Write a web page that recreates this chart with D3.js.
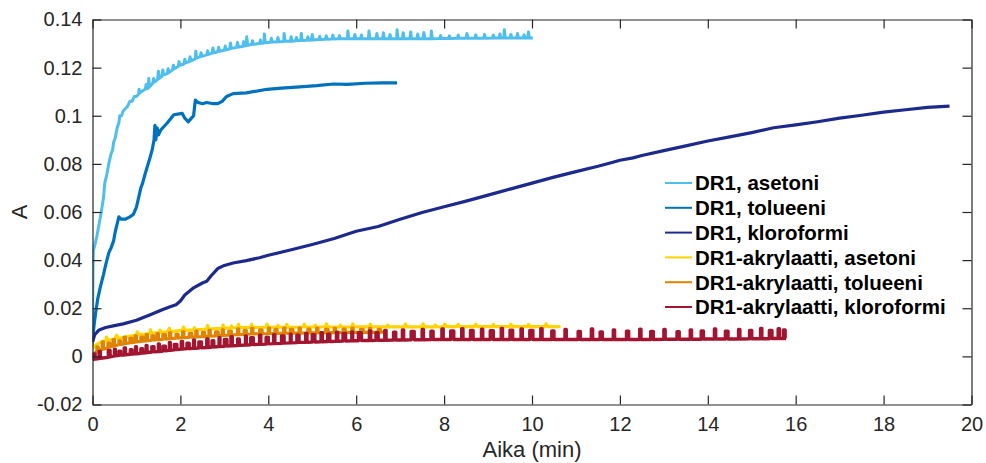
<!DOCTYPE html>
<html><head><meta charset="utf-8">
<script src="https://cdn.jsdelivr.net/npm/d3@7"></script>
<style>
html,body{margin:0;padding:0;background:#fff;}
svg{display:block;}
</style></head>
<body>
<div id="chart"></div>
<script>
// ---------- DATA ----------
const seriesNames = ["DR1, asetoni","DR1, tolueeni","DR1, kloroformi","DR1-akrylaatti, asetoni","DR1-akrylaatti, tolueeni","DR1-akrylaatti, kloroformi"];
const seriesColors = ["#4DBEEE","#0072BD","#1B2A8C","#FFD200","#E08300","#A2142F"];
const xTicks = [0,2,4,6,8,10,12,14,16,18,20];
const xTickLabels = ["0","2","4","6","8","10","12","14","16","18","20"];
const yTicks = [-0.02,0,0.02,0.04,0.06,0.08,0.1,0.12,0.14];
const yTickLabels = ["-0.02","0","0.02","0.04","0.06","0.08","0.1","0.12","0.14"];

const dr1Asetoni = [[0,0.004],[0.005,0.02],[0.01,0.035],[0.02,0.044],[0.05,0.046],[0.1,0.05],[0.15,0.055],[0.2,0.06],[0.25,0.066],[0.28,0.072],[0.33,0.076],[0.37,0.08],[0.42,0.084],[0.46,0.086],[0.48,0.089],[0.52,0.091],[0.56,0.095],[0.6,0.097],[0.62,0.1],[0.66,0.1],[0.7,0.102],[0.75,0.103],[0.8,0.104],[0.85,0.106],[0.9,0.106],[0.95,0.108],[1.0,0.108],[1.05,0.109],[1.06,0.111],[1.08,0.1095],[1.15,0.1105],[1.2,0.111],[1.22,0.113],[1.24,0.1112],[1.27,0.1115],[1.28,0.1155],[1.3,0.112],[1.37,0.1135],[1.39,0.1155],[1.41,0.114],[1.48,0.115],[1.5,0.1185],[1.52,0.1155],[1.58,0.1165],[1.6,0.119],[1.62,0.117],[1.7,0.1175],[1.72,0.1195],[1.74,0.118],[1.82,0.119],[1.84,0.121],[1.86,0.1195],[1.95,0.1205],[1.97,0.1225],[1.99,0.121],[2.08,0.1215],[2.1,0.1235],[2.12,0.122],[2.2,0.1225],[2.22,0.1245],[2.24,0.1228],[2.34,0.1237],[2.35,0.1268],[2.37,0.124],[2.45,0.1245],[2.47,0.1262],[2.49,0.1247],[2.6,0.1253],[2.62,0.127],[2.64,0.1255],[2.72,0.126],[2.74,0.1282],[2.76,0.1262],[2.85,0.1266],[2.87,0.1285],[2.89,0.1268],[3.0,0.1272],[3.02,0.129],[3.04,0.1274],[3.12,0.1278],[3.14,0.1302],[3.16,0.128],[3.28,0.1284],[3.3,0.1305],[3.32,0.1286],[3.42,0.1288],[3.44,0.1308],[3.46,0.129],[3.5,0.1292],[3.51,0.1328],[3.53,0.1293],[3.62,0.1296],[3.64,0.1312],[3.66,0.1297],[3.8,0.13],[3.82,0.1315],[3.84,0.1301],[3.9,0.1302],[3.91,0.134],[3.93,0.1303],[4.05,0.1305],[4.07,0.1322],[4.09,0.1306],[4.2,0.1307],[4.22,0.1325],[4.24,0.1308],[4.35,0.1309],[4.36,0.1342],[4.38,0.131],[4.5,0.131],[4.52,0.1328],[4.54,0.131],[4.62,0.1312],[4.64,0.1325],[4.66,0.1312],[4.74,0.1313],[4.75,0.1342],[4.77,0.1313],[4.88,0.1314],[4.9,0.1328],[4.92,0.1314],[4.98,0.1315],[5.0,0.1338],[5.02,0.1315],[5.15,0.1317],[5.17,0.133],[5.19,0.1317],[5.3,0.1318],[5.32,0.1332],[5.34,0.1318],[5.45,0.1319],[5.47,0.1335],[5.49,0.1319],[5.6,0.132],[5.62,0.1333],[5.64,0.132],[5.8,0.132],[5.81,0.1352],[5.83,0.132],[5.95,0.132],[5.97,0.1338],[5.99,0.132],[6.1,0.132],[6.12,0.1336],[6.14,0.132],[6.28,0.132],[6.29,0.1352],[6.31,0.132],[6.45,0.132],[6.47,0.1342],[6.49,0.132],[6.6,0.132],[6.62,0.1345],[6.64,0.132],[6.75,0.132],[6.77,0.1338],[6.79,0.132],[6.92,0.132],[6.93,0.1357],[6.95,0.132],[7.05,0.132],[7.07,0.1345],[7.09,0.132],[7.22,0.132],[7.24,0.1348],[7.26,0.132],[7.38,0.132],[7.4,0.134],[7.42,0.132],[7.52,0.132],[7.54,0.1346],[7.56,0.132],[7.7,0.132],[7.71,0.1352],[7.73,0.132],[7.9,0.1321],[7.92,0.1333],[7.94,0.1321],[8.1,0.1321],[8.12,0.1332],[8.14,0.1321],[8.3,0.1322],[8.32,0.1335],[8.34,0.1322],[8.5,0.1322],[8.52,0.1342],[8.54,0.1322],[8.7,0.1322],[8.72,0.1336],[8.74,0.1322],[8.9,0.1322],[8.92,0.1338],[8.94,0.1322],[9.1,0.1323],[9.12,0.1335],[9.14,0.1323],[9.25,0.1323],[9.27,0.134],[9.29,0.1323],[9.36,0.1323],[9.37,0.1357],[9.39,0.1323],[9.5,0.1323],[9.52,0.1338],[9.54,0.1323],[9.65,0.1323],[9.67,0.1342],[9.69,0.1323],[9.8,0.1323],[9.82,0.1336],[9.84,0.1323],[9.9,0.1323],[9.92,0.1348],[9.94,0.1323],[10.02,0.1323]];

const dr1Tolueeni = [[0,0.006],[0.03,0.012],[0.07,0.018],[0.12,0.024],[0.18,0.029],[0.25,0.034],[0.3,0.038],[0.37,0.043],[0.42,0.045],[0.48,0.048],[0.52,0.052],[0.56,0.055],[0.6,0.058],[0.65,0.057],[0.75,0.057],[0.85,0.058],[0.93,0.059],[1.0,0.062],[1.05,0.066],[1.1,0.07],[1.14,0.072],[1.2,0.076],[1.25,0.079],[1.3,0.082],[1.36,0.086],[1.4,0.09],[1.42,0.096],[1.44,0.09],[1.47,0.095],[1.5,0.092],[1.55,0.094],[1.6,0.095],[1.7,0.097],[1.85,0.1004],[2.04,0.101],[2.1,0.099],[2.18,0.0975],[2.25,0.099],[2.3,0.1],[2.34,0.1065],[2.4,0.1055],[2.5,0.105],[2.6,0.1055],[2.75,0.105],[2.85,0.105],[2.95,0.106],[3.05,0.108],[3.2,0.1092],[3.5,0.1095],[3.97,0.111],[4.3,0.1115],[4.72,0.112],[5.1,0.1125],[5.48,0.1132],[5.8,0.113],[6.2,0.1135],[6.6,0.1137],[6.93,0.1137]];

const dr1Kloroformi = [[0,0.006],[0.05,0.009],[0.15,0.011],[0.3,0.012],[0.5,0.0128],[0.7,0.0135],[1.0,0.015],[1.3,0.0172],[1.6,0.0195],[1.75,0.0205],[1.9,0.0215],[2.0,0.023],[2.1,0.0255],[2.3,0.0285],[2.5,0.0305],[2.6,0.0312],[2.7,0.0335],[2.85,0.0365],[3.0,0.0378],[3.2,0.0388],[3.5,0.0398],[3.8,0.041],[4.0,0.042],[4.5,0.0442],[5,0.0465],[5.5,0.049],[6,0.052],[6.5,0.054],[7,0.057],[7.5,0.0598],[8,0.0622],[8.5,0.0645],[9,0.067],[9.5,0.0695],[10,0.072],[10.5,0.0745],[11,0.0768],[11.5,0.079],[11.8,0.0805],[12,0.0815],[12.3,0.0825],[12.5,0.0835],[13,0.0855],[13.5,0.0875],[14,0.0895],[14.5,0.0912],[15,0.093],[15.5,0.095],[16,0.0962],[16.5,0.0975],[17,0.099],[17.5,0.1002],[18,0.1015],[18.5,0.1025],[19,0.1035],[19.5,0.104]];

const akrAsetoni = [[0,0.003],[0.05,0.0045],[0.1,0.005],[0.2,0.006],[0.3,0.0065],[0.32,0.008],[0.35,0.0066],[0.5,0.0072],[0.55,0.0088],[0.58,0.0074],[0.8,0.0082],[1.0,0.0088],[1.02,0.0102],[1.05,0.0089],[1.3,0.0095],[1.32,0.011],[1.35,0.0096],[1.52,0.0099],[1.54,0.0109],[1.56,0.0099],[1.7,0.0102],[1.75,0.0117],[1.78,0.0103],[2.05,0.0108],[2.07,0.0122],[2.1,0.0108],[2.3,0.011],[2.32,0.0119],[2.34,0.011],[2.6,0.0113],[2.62,0.0128],[2.65,0.0113],[2.95,0.0117],[2.97,0.013],[3.0,0.0117],[3.14,0.0118],[3.16,0.0127],[3.18,0.0118],[3.3,0.012],[3.32,0.0133],[3.35,0.012],[3.6,0.012],[3.62,0.0133],[3.65,0.012],[3.95,0.0121],[3.97,0.0134],[4.0,0.0121],[4.2,0.0121],[4.22,0.0129],[4.24,0.0121],[4.4,0.0121],[4.42,0.0133],[4.45,0.0121],[4.8,0.0122],[4.82,0.0134],[4.85,0.0122],[5.05,0.0122],[5.07,0.013],[5.09,0.0122],[5.3,0.0122],[5.32,0.0135],[5.35,0.0122],[5.62,0.0122],[5.64,0.013],[5.66,0.0122],[5.9,0.0123],[5.92,0.0135],[5.95,0.0123],[6.3,0.0123],[6.32,0.0134],[6.35,0.0123],[6.7,0.0123],[6.72,0.013],[6.74,0.0123],[7.1,0.0123],[7.12,0.0134],[7.15,0.0123],[7.5,0.0123],[7.52,0.0135],[7.55,0.0123],[7.78,0.0123],[7.8,0.013],[7.82,0.0123],[8.0,0.0124],[8.02,0.0134],[8.05,0.0124],[8.3,0.0124],[8.32,0.0133],[8.35,0.0124],[8.7,0.0124],[8.72,0.0134],[8.75,0.0124],[9.1,0.0124],[9.12,0.0133],[9.15,0.0124],[9.5,0.0124],[9.52,0.0134],[9.55,0.0124],[9.9,0.0124],[9.92,0.0133],[9.95,0.0124],[10.3,0.0124],[10.32,0.0135],[10.35,0.0124],[10.65,0.0124]];

const akrTolueeni = [[0,0.0005],[0.1,0.0021],[0.1,0.004],[0.13,0.004],[0.13,0.0024],[0.22,0.0029],[0.22,0.006],[0.25,0.006],[0.25,0.003],[0.35,0.0036],[0.35,0.0055],[0.4,0.0055],[0.4,0.0039],[0.47,0.0043],[0.47,0.007],[0.5,0.007],[0.5,0.0044],[0.6,0.0049],[0.6,0.0065],[0.64,0.0065],[0.64,0.005],[0.72,0.0052],[0.72,0.008],[0.75,0.008],[0.75,0.0054],[0.85,0.0056],[0.85,0.0075],[0.9,0.0075],[0.9,0.0057],[0.97,0.0059],[0.97,0.0085],[1.0,0.0085],[1.0,0.006],[1.1,0.0062],[1.1,0.008],[1.15,0.008],[1.15,0.0063],[1.22,0.0064],[1.22,0.009],[1.25,0.009],[1.25,0.0065],[1.35,0.0067],[1.35,0.0085],[1.4,0.0085],[1.4,0.0068],[1.47,0.0069],[1.47,0.0095],[1.5,0.0095],[1.5,0.007],[1.6,0.0071],[1.6,0.009],[1.66,0.009],[1.66,0.0072],[1.75,0.0074],[1.75,0.0098],[1.78,0.0098],[1.78,0.0074],[1.9,0.0076],[1.9,0.0092],[1.95,0.0092],[1.95,0.0076],[2.05,0.0078],[2.05,0.0102],[2.08,0.0102],[2.08,0.0078],[2.2,0.0079],[2.2,0.0096],[2.26,0.0096],[2.26,0.008],[2.35,0.0081],[2.35,0.0105],[2.38,0.0105],[2.38,0.0081],[2.5,0.0082],[2.5,0.01],[2.55,0.01],[2.55,0.0082],[2.65,0.0084],[2.65,0.0108],[2.68,0.0108],[2.68,0.0084],[2.8,0.0085],[2.8,0.0102],[2.86,0.0102],[2.86,0.0086],[2.95,0.0087],[2.95,0.011],[2.98,0.011],[2.98,0.0087],[3.1,0.0088],[3.1,0.0105],[3.16,0.0105],[3.16,0.0089],[3.3,0.009],[3.3,0.0114],[3.33,0.0114],[3.33,0.009],[3.45,0.0091],[3.45,0.0108],[3.5,0.0108],[3.5,0.0092],[3.62,0.0093],[3.62,0.0116],[3.65,0.0116],[3.65,0.0093],[3.8,0.0094],[3.8,0.011],[3.86,0.011],[3.86,0.0094],[4.0,0.0095],[4.0,0.0117],[4.03,0.0117],[4.03,0.0095],[4.15,0.0096],[4.15,0.0112],[4.2,0.0112],[4.2,0.0096],[4.35,0.0096],[4.35,0.0118],[4.38,0.0118],[4.38,0.0096],[4.5,0.0097],[4.5,0.0112],[4.56,0.0112],[4.56,0.0097],[4.7,0.0097],[4.7,0.0117],[4.73,0.0117],[4.73,0.0097],[4.9,0.0098],[4.9,0.0113],[4.95,0.0113],[4.95,0.0098],[5.1,0.0098],[5.1,0.0117],[5.13,0.0117],[5.13,0.0098],[5.3,0.0099],[5.3,0.0112],[5.36,0.0112],[5.36,0.0099],[5.5,0.0099],[5.5,0.0116],[5.53,0.0116],[5.53,0.0099],[5.7,0.01],[5.7,0.0113],[5.75,0.0113],[5.75,0.01],[5.9,0.01],[5.9,0.0117],[5.93,0.0117],[5.93,0.01],[6.1,0.01],[6.1,0.0112],[6.16,0.0112],[6.16,0.01],[6.3,0.01],[6.3,0.0116],[6.33,0.0116],[6.33,0.01],[6.5,0.0101],[6.5,0.0112],[6.55,0.0112],[6.55,0.0101],[6.7,0.0101]];

const akrKloroformi = [[0,-0.0015],[0.03,-0.0012],[0.03,0.001],[0.06,0.001],[0.06,-0.0011],[0.15,-0.0009],[0.15,0.002],[0.18,0.002],[0.18,-0.0008],[0.36,-0.0004],[0.36,0.0025],[0.4,0.0025],[0.4,-0.0002],[0.5,0.0002],[0.5,0.003],[0.52,0.003],[0.52,0.0002],[0.6,0.0004],[0.6,0.0022],[0.64,0.0022],[0.64,0.0005],[0.72,0.0006],[0.72,0.0035],[0.75,0.0035],[0.75,0.0007],[0.86,0.0009],[0.86,0.0028],[0.9,0.0028],[0.9,0.001],[0.98,0.0011],[0.98,0.004],[1.0,0.004],[1.0,0.0011],[1.1,0.0013],[1.1,0.0032],[1.14,0.0032],[1.14,0.0014],[1.22,0.0015],[1.22,0.0045],[1.24,0.0045],[1.24,0.0016],[1.35,0.0018],[1.35,0.004],[1.4,0.004],[1.4,0.0019],[1.5,0.002],[1.5,0.0052],[1.52,0.0052],[1.52,0.002],[1.6,0.0022],[1.6,0.0042],[1.66,0.0042],[1.66,0.0023],[1.75,0.0025],[1.75,0.0058],[1.77,0.0058],[1.77,0.0025],[1.86,0.0027],[1.86,0.005],[1.92,0.005],[1.92,0.0028],[2.02,0.003],[2.02,0.0062],[2.05,0.0062],[2.05,0.003],[2.15,0.0032],[2.15,0.0055],[2.2,0.0055],[2.2,0.0032],[2.3,0.0034],[2.3,0.0068],[2.32,0.0068],[2.32,0.0034],[2.42,0.0035],[2.42,0.006],[2.48,0.006],[2.48,0.0036],[2.6,0.0037],[2.6,0.0072],[2.63,0.0072],[2.63,0.0037],[2.72,0.0039],[2.72,0.0065],[2.76,0.0065],[2.76,0.0039],[2.88,0.0041],[2.88,0.0078],[2.9,0.0078],[2.9,0.0041],[3.0,0.0042],[3.0,0.007],[3.06,0.007],[3.06,0.0043],[3.15,0.0044],[3.15,0.0082],[3.18,0.0082],[3.18,0.0044],[3.3,0.0045],[3.3,0.0072],[3.34,0.0072],[3.34,0.0046],[3.48,0.0047],[3.48,0.0085],[3.5,0.0085],[3.5,0.0047],[3.6,0.0048],[3.6,0.0078],[3.66,0.0078],[3.66,0.0049],[3.8,0.005],[3.8,0.0088],[3.83,0.0088],[3.83,0.005],[3.95,0.0051],[3.95,0.008],[4.0,0.008],[4.0,0.0052],[4.12,0.0053],[4.12,0.009],[4.15,0.009],[4.15,0.0053],[4.3,0.0054],[4.3,0.0085],[4.36,0.0085],[4.36,0.0055],[4.5,0.0056],[4.5,0.0092],[4.52,0.0092],[4.52,0.0056],[4.65,0.0057],[4.65,0.0088],[4.7,0.0088],[4.7,0.0058],[4.85,0.0059],[4.85,0.0095],[4.88,0.0095],[4.88,0.0059],[5.0,0.006],[5.0,0.009],[5.06,0.009],[5.06,0.006],[5.2,0.0061],[5.2,0.0098],[5.23,0.0098],[5.23,0.0061],[5.35,0.0062],[5.35,0.0092],[5.4,0.0092],[5.4,0.0062],[5.55,0.0063],[5.55,0.01],[5.58,0.01],[5.58,0.0063],[5.7,0.0064],[5.7,0.0095],[5.76,0.0095],[5.76,0.0064],[5.9,0.0065],[5.9,0.0102],[5.92,0.0102],[5.92,0.0065],[6.05,0.0065],[6.05,0.0098],[6.12,0.0098],[6.12,0.0066],[6.3,0.0066],[6.3,0.0106],[6.33,0.0106],[6.33,0.0066],[6.45,0.0067],[6.45,0.0098],[6.5,0.0098],[6.5,0.0067],[6.65,0.0067],[6.65,0.0108],[6.68,0.0108],[6.68,0.0067],[6.85,0.0068],[6.85,0.01],[6.9,0.01],[6.9,0.0068],[7.05,0.0068],[7.05,0.011],[7.08,0.011],[7.08,0.0068],[7.25,0.0069],[7.25,0.0104],[7.32,0.0104],[7.32,0.0069],[7.5,0.0069],[7.5,0.0112],[7.53,0.0112],[7.53,0.0069],[7.7,0.007],[7.7,0.0105],[7.75,0.0105],[7.75,0.007],[7.95,0.007],[7.95,0.0114],[7.98,0.0114],[7.98,0.007],[8.15,0.007],[8.15,0.0106],[8.22,0.0106],[8.22,0.007],[8.4,0.007],[8.4,0.0115],[8.43,0.0115],[8.43,0.007],[8.6,0.007],[8.6,0.0108],[8.66,0.0108],[8.66,0.007],[8.85,0.007],[8.85,0.0113],[8.88,0.0113],[8.88,0.007],[9.05,0.007],[9.05,0.0107],[9.12,0.0107],[9.12,0.007],[9.3,0.007],[9.3,0.0116],[9.33,0.0116],[9.33,0.007],[9.5,0.007],[9.5,0.0109],[9.56,0.0109],[9.56,0.007],[9.75,0.007],[9.75,0.0114],[9.78,0.0114],[9.78,0.007],[9.95,0.007],[9.95,0.0108],[10.02,0.0108],[10.02,0.007],[10.2,0.007],[10.2,0.0115],[10.23,0.0115],[10.23,0.007],[10.45,0.007],[10.45,0.0106],[10.5,0.0106],[10.5,0.007],[10.75,0.007],[10.75,0.0112],[10.78,0.0112],[10.78,0.007],[11.05,0.007],[11.05,0.0104],[11.1,0.0104],[11.1,0.007],[11.35,0.007],[11.35,0.0114],[11.38,0.0114],[11.38,0.007],[11.55,0.007],[11.55,0.0102],[11.6,0.0102],[11.6,0.007],[11.85,0.007],[11.85,0.011],[11.88,0.011],[11.88,0.007],[12.15,0.007],[12.15,0.0105],[12.2,0.0105],[12.2,0.007],[12.45,0.007],[12.45,0.0113],[12.48,0.0113],[12.48,0.007],[12.7,0.007],[12.7,0.0104],[12.76,0.0104],[12.76,0.007],[13.0,0.0071],[13.0,0.0112],[13.03,0.0112],[13.03,0.0071],[13.3,0.0071],[13.3,0.0103],[13.35,0.0103],[13.35,0.0071],[13.6,0.0071],[13.6,0.011],[13.63,0.011],[13.63,0.0071],[13.85,0.0071],[13.85,0.0106],[13.9,0.0106],[13.9,0.0072],[14.15,0.0072],[14.15,0.0114],[14.18,0.0114],[14.18,0.0072],[14.4,0.0072],[14.4,0.0105],[14.46,0.0105],[14.46,0.0072],[14.7,0.0072],[14.7,0.0112],[14.73,0.0112],[14.73,0.0072],[14.95,0.0073],[14.95,0.0108],[15.0,0.0108],[15.0,0.0073],[15.2,0.0073],[15.2,0.0116],[15.23,0.0116],[15.23,0.0073],[15.4,0.0073],[15.4,0.0108],[15.46,0.0108],[15.46,0.0074],[15.6,0.0074],[15.6,0.0115],[15.63,0.0115],[15.63,0.0074],[15.72,0.0074],[15.72,0.011],[15.76,0.011],[15.76,0.0074],[15.78,0.0074]];

const seriesData = [dr1Asetoni, dr1Tolueeni, dr1Kloroformi, akrAsetoni, akrTolueeni, akrKloroformi];

// ---------- LAYOUT ----------
const W = 986, H = 463;
const plot = {left: 92.5, right: 971.5, top: 19.5, bottom: 404.5};
const axisColor = "#262626";
const font = "'Liberation Sans', Arial, Helvetica, sans-serif";

const svg = d3.select("#chart").append("svg").attr("width", W).attr("height", H)
  .style("font-family", font);

const x = d3.scaleLinear().domain([0, 20]).range([plot.left, plot.right]);
const y = d3.scaleLinear().domain([-0.02, 0.14]).range([plot.bottom, plot.top]);

svg.append("clipPath").attr("id","clip").append("rect")
  .attr("x", plot.left).attr("y", plot.top)
  .attr("width", plot.right - plot.left).attr("height", plot.bottom - plot.top);

const line = d3.line().x(d => x(d[0])).y(d => y(d[1]));
const gLines = svg.append("g").attr("clip-path", "url(#clip)");
const widths = [3, 3.2, 3.2, 3.2, 3.2, 3.4];
seriesData.forEach((data, i) => {
  gLines.append("path").datum(data)
    .attr("d", line)
    .attr("fill", "none")
    .attr("stroke", seriesColors[i])
    .attr("stroke-width", widths[i])
    .attr("stroke-linejoin", "round")
    .attr("stroke-linecap", "butt");
});

// axes
const tick = 9;
const xAxisB = d3.axisBottom(x).tickValues(xTicks).tickSizeInner(-tick).tickSizeOuter(0).tickPadding(12)
  .tickFormat((d,i) => xTickLabels[i]);
const xAxisT = d3.axisTop(x).tickValues(xTicks).tickSizeInner(-tick).tickSizeOuter(0).tickFormat("");
const yAxisL = d3.axisLeft(y).tickValues(yTicks).tickSizeInner(-tick).tickSizeOuter(0).tickPadding(10)
  .tickFormat((d,i) => yTickLabels[i]);
const yAxisR = d3.axisRight(y).tickValues(yTicks).tickSizeInner(-tick).tickSizeOuter(0).tickFormat("");

function style(g){
  g.selectAll("path.domain").attr("stroke", axisColor).attr("stroke-width", 1.2);
  g.selectAll(".tick line").attr("stroke", axisColor).attr("stroke-width", 1.2);
  g.selectAll(".tick text").attr("fill", axisColor).style("font-size", "20px").style("font-family", font);
}
svg.append("g").attr("transform", `translate(0,${plot.bottom})`).call(xAxisB).call(style);
svg.append("g").attr("transform", `translate(0,${plot.top})`).call(xAxisT).call(style);
svg.append("g").attr("transform", `translate(${plot.left},0)`).call(yAxisL).call(style);
svg.append("g").attr("transform", `translate(${plot.right},0)`).call(yAxisR).call(style);

// axis labels
svg.append("text").attr("x", (plot.left + plot.right)/2).attr("y", 457)
  .attr("text-anchor", "middle").attr("fill", axisColor)
  .style("font-size", "22px").text("Aika (min)");
svg.append("text").attr("transform", `translate(27,${(plot.top + plot.bottom)/2}) rotate(-90)`)
  .attr("text-anchor", "middle").attr("fill", axisColor)
  .style("font-size", "22px").text("A");

// legend
const legend = svg.append("g").attr("transform", "translate(665,183)");
seriesNames.forEach((name, i) => {
  const gy = i * 24.8;
  legend.append("line").attr("x1", 0).attr("x2", 27).attr("y1", gy).attr("y2", gy)
    .attr("stroke", seriesColors[i]).attr("stroke-width", 2);
  legend.append("text").attr("x", 30).attr("y", gy).attr("dy", "0.36em")
    .style("font-size", "20.5px").style("font-weight", "bold").attr("fill", "#000")
    .text(name);
});
</script>
</body></html>
